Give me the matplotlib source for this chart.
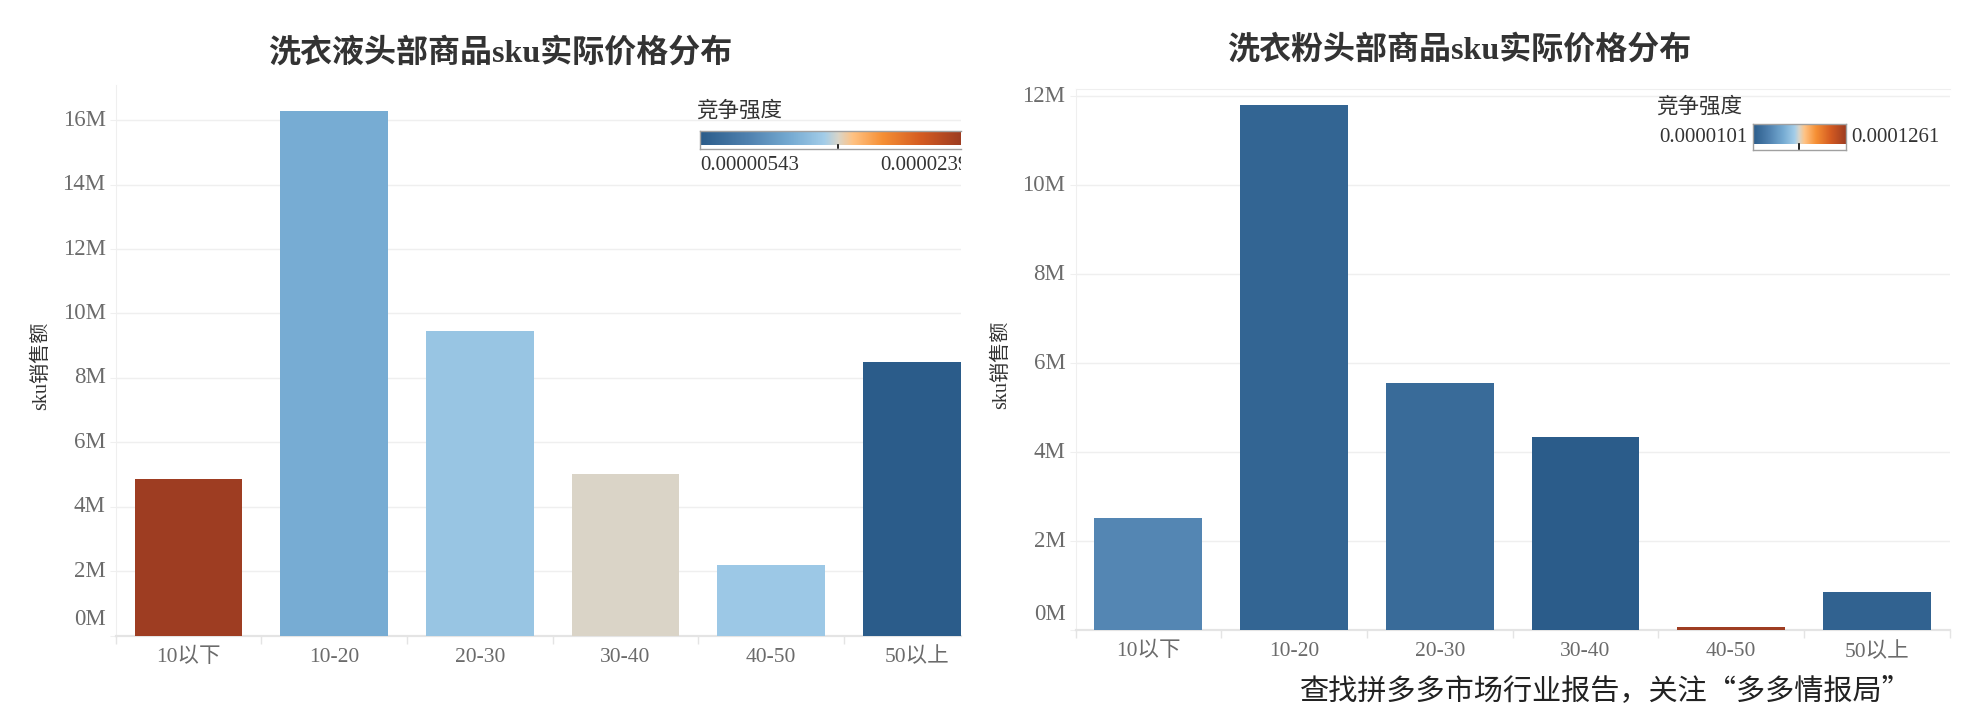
import numpy as np
import matplotlib
matplotlib.use('Agg')
import matplotlib.pyplot as plt
from matplotlib.colors import LinearSegmentedColormap, TwoSlopeNorm

# ---------------- data ----------------
categories = ['10以下', '10-20', '20-30', '30-40', '40-50', '50以上']

liquid_title = '洗衣液头部商品sku实际价格分布'
liquid_sales = [4.87e6, 16.29e6, 9.46e6, 5.02e6, 2.19e6, 8.48e6]
liquid_intensity = [2.39e-5, 1.19e-5, 1.365e-5, 1.522e-5, 1.385e-5, 5.43e-6]
liquid_scale = (5.43e-6, 1.522e-5, 2.39e-5)      # min, centre, max
liquid_scale_labels = ['0.00000543', '0.0000239']
liquid_yticks = [0, 2e6, 4e6, 6e6, 8e6, 10e6, 12e6, 14e6, 16e6]
liquid_ymax = 17.08e6

powder_title = '洗衣粉头部商品sku实际价格分布'
powder_sales = [2.53e6, 11.80e6, 5.56e6, 4.33e6, 0.06e6, 0.86e6]
powder_intensity = [3.2e-5, 1.47e-5, 1.82e-5, 1.01e-5, 1.261e-4, 1.36e-5]
powder_scale = (1.01e-5, 6.775e-5, 1.261e-4)
powder_scale_labels = ['0.0000101', '0.0001261']
powder_yticks = [0, 2e6, 4e6, 6e6, 8e6, 10e6, 12e6]
powder_ymax = 12.16e6

ylabel = 'sku销售额'
legend_title = '竞争强度'
footer = '查找拼多多市场行业报告，关注“多多情报局”'

# ---------------- style ----------------
palette = [(0.00, '#2b5c8a'), (0.17, '#4f81af'), (0.33, '#77acd3'),
           (0.45, '#a3cde9'), (0.50, '#d9d5c9'), (0.56, '#ffc283'),
           (0.68, '#f69035'), (0.84, '#d45b21'), (1.00, '#9e3d22')]
cmap = LinearSegmentedColormap.from_list('ob', palette)

SERIF = ['Liberation Serif', 'Noto Sans CJK SC']
CJK = ['Noto Sans CJK SC', 'DejaVu Sans']
GRID = '#efefef'
AXC = '#e4e4e4'
TICKC = '#6b6b6b'
DARK = '#333333'

W, H = 1961, 719
fig = plt.figure(figsize=(W / 100, H / 100), dpi=100)
PT = 0.72  # points per pixel


def px_axes(x0, y0, x1, y1):
    return fig.add_axes([x0 / W, 1 - y1 / H, (x1 - x0) / W, (y1 - y0) / H])


def fx(x):
    return x / W


def fy(y):
    return 1 - y / H


def panel(ax, sales, intensity, scale, yticks, ymax, xmax, top_line=False):
    norm = TwoSlopeNorm(vmin=scale[0], vcenter=scale[1], vmax=scale[2])
    x = np.arange(len(categories))
    ax.bar(x, sales, width=0.74, color=cmap(norm(np.array(intensity))), zorder=3)
    ax.spines['right'].set_visible(False)
    ax.spines['top'].set_visible(top_line)
    ax.spines['top'].set_color(GRID)
    ax.spines['left'].set_color(GRID)
    ax.spines['bottom'].set_color(AXC)
    ax.spines['bottom'].set_linewidth(1.6)
    ax.set_yticks(yticks)
    ax.yaxis.grid(True, color=GRID, lw=1.0)
    ax.set_axisbelow(True)
    ax.tick_params(axis='y', length=6 * PT, color=GRID, labelleft=False)
    for v in yticks:
        off = 16 if v == 0 else 0
        ax.annotate(f'{v / 1e6:.0f}M', xy=(0, v), xycoords=ax.get_yaxis_transform(),
                    xytext=(-10 * PT, off * PT), textcoords='offset points',
                    ha='right', va='center', fontsize=16.5, color=TICKC,
                    family=SERIF, annotation_clip=False)
    ax.set_xticks(x)
    ax.set_xticklabels(categories, family=SERIF, fontsize=15.5, color=TICKC)
    ax.tick_params(axis='x', which='major', length=0, pad=12 * PT)
    ax.set_xticks(np.arange(len(categories) + 1) - 0.5, minor=True)
    ax.tick_params(axis='x', which='minor', length=8 * PT, color=AXC, width=1)
    ax.set_xlim(-0.5, xmax)
    ax.set_ylim(0, ymax)
    ax.set_ylabel(ylabel, family=SERIF, fontsize=14.5, color=DARK)
    return norm


def legend(ax_main, norm, labels, title_xy, bar_box, lab_left, lab_right, ha_left,
           border_right=True):
    fig.text(fx(title_xy[0]), fy(title_xy[1]), legend_title, family=CJK,
             fontsize=15.5, color=DARK, ha='left', va='center')
    x0, y0, x1, y1 = bar_box
    cax = px_axes(x0, y0, x1, y1)
    vals = np.linspace(norm.vmin, norm.vmax, 600)
    cax.imshow(cmap(norm(vals))[None, :, :], aspect='auto', extent=[0, 1, 0, 1])
    cax.set_xticks([])
    cax.set_yticks([])
    for s in cax.spines.values():
        s.set_color('#a0a0a0')
        s.set_linewidth(1)
    cax.spines['right'].set_visible(border_right)
    c = (norm.vcenter - norm.vmin) / (norm.vmax - norm.vmin)
    cax.plot([c, c], [0, -0.25], color='black', lw=1.2, clip_on=False)
    ax_main.text(fx(lab_left[0]), fy(lab_left[1]), labels[0], transform=fig.transFigure,
                 family=SERIF, fontsize=15, color=DARK, ha=ha_left, va='center',
                 clip_on=False)
    ax_main.text(fx(lab_right[0]), fy(lab_right[1]), labels[1], transform=fig.transFigure,
                 family=SERIF, fontsize=15, color=DARK, ha='left', va='center',
                 clip_on=True)


# ---------------- left panel ----------------
band = 145.7
axL = px_axes(115.6, 85.4, 961, 635.5)
normL = panel(axL, liquid_sales, liquid_intensity, liquid_scale, liquid_yticks,
              liquid_ymax, -0.5 + (961 - 115.6) / band)
axL.yaxis.set_label_coords((51 - 115.6) / (961 - 115.6), 0.49)
fig.text(fx(500), fy(53), liquid_title, family=SERIF, fontweight='bold',
         fontsize=23, color=DARK, ha='center', va='center')
legend(axL, normL, liquid_scale_labels, (696, 111), (700, 130.7, 961, 149.3),
       (700, 165), (880, 165), 'left', border_right=False)

# ---------------- right panel ----------------
axR = px_axes(1075.5, 89.3, 1949.7, 630)
normR = panel(axR, powder_sales, powder_intensity, powder_scale, powder_yticks,
              powder_ymax, 5.5, top_line=True)
axR.yaxis.set_label_coords((1011 - 1075.5) / (1949.7 - 1075.5), 0.49)
fig.text(fx(1459), fy(50), powder_title, family=SERIF, fontweight='bold',
         fontsize=23, color=DARK, ha='center', va='center')
legend(axR, normR, powder_scale_labels, (1656, 107), (1753, 124.3, 1846, 150),
       (1747, 138), (1851, 138), 'right')

# ---------------- footer ----------------
fig.text(fx(1300), fy(691), footer, family=CJK, fontsize=21, color='#222222',
         ha='left', va='center')

fig.savefig('out.png', dpi=100)
